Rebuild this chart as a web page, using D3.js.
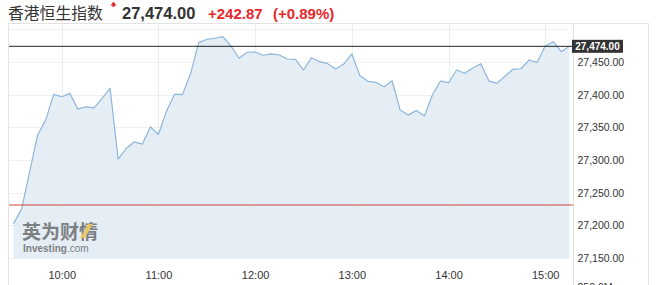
<!DOCTYPE html>
<html>
<head>
<meta charset="utf-8">
<script src="https://cdn.jsdelivr.net/npm/d3@7"></script>
<style>
  body { margin: 0; background: #fff; }
  svg { display: block; font-family: "Liberation Sans", Arial, sans-serif; }
</style>
</head>
<body>
<div class="hsi"></div>
<script>
// 5-minute closes from 9:30
var values = [27202.6, 27224.1, 27281, 27338, 27361, 27400.5, 27396.8, 27402, 27377.9, 27381.4,
  27379.9, 27394.3, 27409.7, 27301.2, 27317.6, 27327.8, 27324.2, 27350.8, 27339.1, 27374.8,
  27400.5, 27400.5, 27432.7, 27479.6, 27484.8, 27486.3, 27488.8, 27474.5, 27455.7, 27464.9,
  27465.3, 27460.3, 27462.3, 27460.7, 27454.6, 27454.1, 27437.7, 27456.6, 27450.5, 27447.4,
  27439.3, 27446.9, 27462.3, 27429, 27420.4, 27418.9, 27412.1, 27421.3, 27376.4, 27368.7,
  27375.9, 27367.2, 27399.4, 27420.9, 27418.3, 27437.7, 27432.7, 27440.8, 27447.4, 27421.2,
  27417.3, 27428.1, 27438.8, 27439.7, 27453.1, 27449.5, 27474.5, 27481.1, 27465.8, 27474.0];
var yTicks = [27150, 27200, 27250, 27300, 27350, 27400, 27450];
var hourTicks = ["10:00", "11:00", "12:00", "13:00", "14:00", "15:00"];
var lastPrice = 27474.00;
var change = 242.87;
var changePct = 0.89;
var prevClose = lastPrice - change;
var title = "香港恒生指数";

var parseT = d3.timeParse("%H:%M");
var start = parseT("09:30");
var data = values.map((v, i) => ({ t: d3.timeMinute.offset(start, i * 5), v: v }));

var width = 657, height = 285;
var svg = d3.select(".hsi").append("svg").attr("width", width).attr("height", height);

var x = d3.scaleTime()
  .domain(d3.extent(data, d => d.t))
  .range([13.4, 569.4]);
var y = d3.scaleLinear()
  .domain([27150, 27450])
  .range([258, 62]);

var left = 8, plotRight = 569, axisX = 573, frameRight = 648, frameTop = 23, plotTop = 24, plotBottom = 258;

// grid
var grid = svg.append("g");
grid.selectAll(".hg")
  .data(yTicks.concat([27500]))
  .enter().append("line")
  .attr("x1", left).attr("x2", plotRight)
  .attr("y1", d => Math.round(y(d)) + 0.5).attr("y2", d => Math.round(y(d)) + 0.5)
  .attr("stroke", "#eef0f2");
grid.selectAll(".vg")
  .data(hourTicks.map(parseT))
  .enter().append("line")
  .attr("x1", d => Math.round(x(d)) + 0.5).attr("x2", d => Math.round(x(d)) + 0.5)
  .attr("y1", plotTop).attr("y2", plotBottom)
  .attr("stroke", "#eef0f2");

// area + line
var area = d3.area()
  .x(d => x(d.t))
  .y0(plotBottom)
  .y1(d => y(d.v));
var line = d3.line()
  .x(d => x(d.t))
  .y(d => y(d.v));

svg.append("path")
  .datum(data)
  .attr("fill", "#dde8f1")
  .attr("fill-opacity", 0.75)
  .attr("d", area);

// vertical grid faintly over the fill
svg.append("g").selectAll("line")
  .data(hourTicks.map(parseT))
  .enter().append("line")
  .attr("x1", d => Math.round(x(d)) + 0.5).attr("x2", d => Math.round(x(d)) + 0.5)
  .attr("y1", plotTop).attr("y2", plotBottom)
  .attr("stroke", "#e9eef3");

// watermark
var wm = svg.append("g").attr("opacity", 0.85);
wm.append("text")
  .attr("x", 22).attr("y", 239)
  .style("font-family", "'Noto Sans CJK SC', sans-serif")
  .style("font-weight", "bold")
  .style("font-size", "19px")
  .attr("fill", "#6a6d70")
  .text("英为财情");
wm.append("path")
  .attr("d", "M80,238 L88,224 L93,224 L85,238 Z")
  .attr("fill", "#f0c24a")
  .attr("opacity", 0.9);
var wt = wm.append("text")
  .attr("x", 23).attr("y", 252)
  .style("font-size", "10px")
  .attr("fill", "#6a6d70");
wt.append("tspan").style("font-weight", "bold").text("Investing");
wt.append("tspan").text(".com");

svg.append("path")
  .datum(data)
  .attr("fill", "none")
  .attr("stroke", "#8db6dd")
  .attr("stroke-width", 1.2)
  .attr("stroke-linejoin", "round")
  .attr("d", line);

// reference lines
svg.append("line")
  .attr("x1", left).attr("x2", axisX)
  .attr("y1", y(prevClose)).attr("y2", y(prevClose))
  .attr("stroke", "#c9483f").attr("stroke-width", 1);
svg.append("line")
  .attr("x1", left).attr("x2", axisX)
  .attr("y1", y(lastPrice)).attr("y2", y(lastPrice))
  .attr("stroke", "#222").attr("stroke-width", 1);

// frame
var frame = svg.append("g").attr("stroke", "#e3e3e3").attr("fill", "none");
frame.append("line").attr("x1", left).attr("x2", frameRight).attr("y1", frameTop + 0.5).attr("y2", frameTop + 0.5);
frame.append("line").attr("x1", left + 0.5).attr("x2", left + 0.5).attr("y1", frameTop).attr("y2", height);
frame.append("line").attr("x1", axisX + 0.5).attr("x2", axisX + 0.5).attr("y1", frameTop).attr("y2", height);
frame.append("line").attr("x1", frameRight + 0.5).attr("x2", frameRight + 0.5).attr("y1", frameTop).attr("y2", height);

// axes
var xAxis = svg.append("g")
  .attr("transform", `translate(0,${plotBottom})`)
  .call(d3.axisBottom(x).tickValues(hourTicks.map(parseT)).tickFormat(d3.timeFormat("%H:%M")).tickSize(0).tickPadding(13));
xAxis.select(".domain").remove();
xAxis.selectAll("text").style("font-size", "11px").style("font-family", "'Liberation Sans', Arial, sans-serif").attr("fill", "#333");

var yAxis = svg.append("g")
  .attr("transform", `translate(${axisX},0)`)
  .call(d3.axisRight(y).tickValues(yTicks).tickFormat(d3.format(",.2f")).tickSize(0).tickPadding(4.5));
yAxis.select(".domain").remove();
yAxis.selectAll("text").style("font-size", "10.5px").style("font-family", "'Liberation Sans', Arial, sans-serif").attr("fill", "#333");

// volume axis label, cut by the bottom edge as in the original
svg.append("text")
  .attr("x", axisX + 4.5).attr("y", 291)
  .style("font-size", "10.5px").attr("fill", "#333")
  .text("250.0M");

// price tag
svg.append("rect")
  .attr("x", axisX - 1).attr("y", y(lastPrice) - 6.5)
  .attr("width", 51).attr("height", 13)
  .attr("fill", "#333");
svg.append("text")
  .attr("x", axisX + 24.5).attr("y", y(lastPrice))
  .attr("dy", "0.36em")
  .attr("text-anchor", "middle")
  .style("font-size", "10px").style("font-weight", "bold")
  .attr("fill", "#fff")
  .text(d3.format(",.2f")(lastPrice));

// header
svg.append("text")
  .attr("x", 8).attr("y", 19)
  .style("font-family", "'Noto Sans CJK SC', sans-serif")
  .style("font-size", "15.8px")
  .attr("fill", "#333")
  .text(title);
svg.append("path")
  .attr("d", "M110.5,5.5 L113.5,1.5 L116.5,5.5 L114.5,5.5 L114.5,7 L112.5,7 L112.5,5.5 Z")
  .attr("fill", "#e8272a");
svg.append("text")
  .attr("x", 122).attr("y", 19)
  .style("font-size", "16.5px").style("font-weight", "bold")
  .attr("fill", "#333")
  .text(d3.format(",.2f")(lastPrice));
svg.append("text")
  .attr("x", 208).attr("y", 19)
  .style("font-size", "15px").style("font-weight", "bold")
  .attr("fill", "#e8272a")
  .text("+" + d3.format(".2f")(change));
svg.append("text")
  .attr("x", 273).attr("y", 19)
  .style("font-size", "15px").style("font-weight", "bold")
  .attr("fill", "#e8272a")
  .text("(+" + d3.format(".2f")(changePct) + "%)");
</script>
</body>
</html>
